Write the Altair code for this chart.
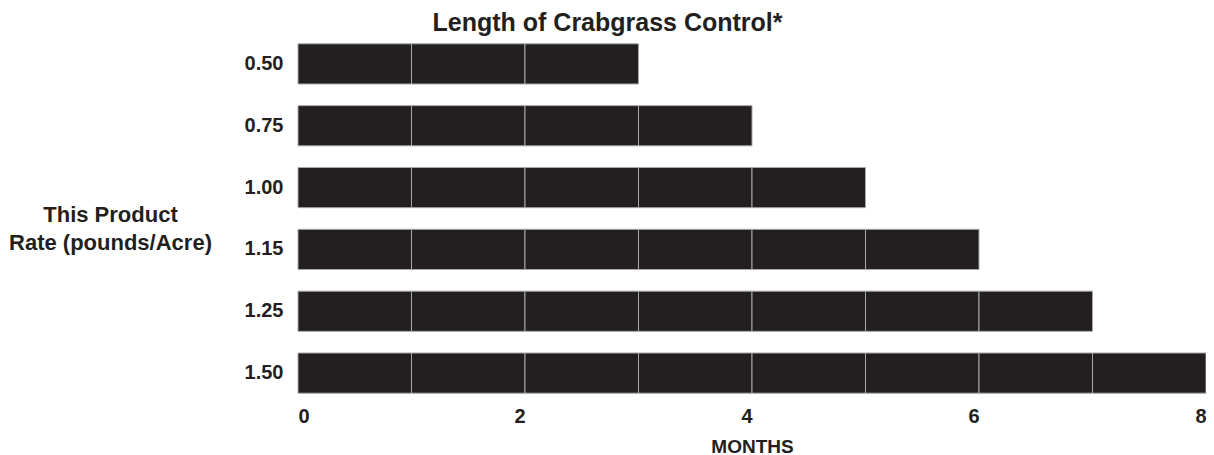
import altair as alt
import pandas as pd

rates = ["0.50", "0.75", "1.00", "1.15", "1.25", "1.50"]
months = [3, 4, 5, 6, 7, 8]

rows = []
for r, m in zip(rates, months):
    for k in range(m):
        rows.append({"rate": r, "start": k, "end": k + 1})
df = pd.DataFrame(rows)

FONT = "Liberation Sans"
INK = "#231f20"

chart = alt.Chart(df).mark_bar(
    color=INK, stroke="#a8a8a8", strokeWidth=1
).encode(
    x=alt.X("start:Q",
            scale=alt.Scale(domain=[0, 8], nice=False, zero=True),
            axis=alt.Axis(title="MONTHS", values=[0, 2, 4, 6, 8], format="d",
                          grid=False, ticks=False, domain=False,
                          labelFont=FONT, labelFontSize=20, labelFontWeight="bold",
                          labelColor=INK, labelPadding=2,
                          labelAlign=alt.condition("datum.value == 0",
                                                   alt.value("left"),
                                                   alt.value("right")),
                          titleFont=FONT, titleFontSize=19, titleFontWeight="bold",
                          titleColor=INK, titlePadding=11)),
    x2="end:Q",
    y=alt.Y("rate:N", sort=rates,
            scale=alt.Scale(paddingInner=0.35, paddingOuter=0.175),
            axis=alt.Axis(title=["This Product", "Rate (pounds/Acre)"],
                          ticks=False, domain=False, grid=False,
                          labelFont=FONT, labelFontSize=20, labelFontWeight="bold",
                          labelColor=INK, labelPadding=15,
                          titleFont=FONT, titleFontSize=22, titleFontWeight="bold",
                          titleColor=INK, titleAngle=0, titleAlign="center",
                          titleBaseline="middle", titleX=-188, titleY=181,
                          titleLineHeight=28)),
).properties(
    width=908, height=371,
    title=alt.TitleParams("Length of Crabgrass Control*", font=FONT, fontSize=25,
                          fontWeight="bold", color=INK, anchor="middle",
                          frame="bounds", offset=-3),
    autosize=alt.AutoSizeParams(type="none"),
    padding={"left": 290, "top": 25, "right": 0, "bottom": 51},
).configure_view(stroke=None)

chart.save("out.html", embed_options={"renderer": "svg", "actions": False})
